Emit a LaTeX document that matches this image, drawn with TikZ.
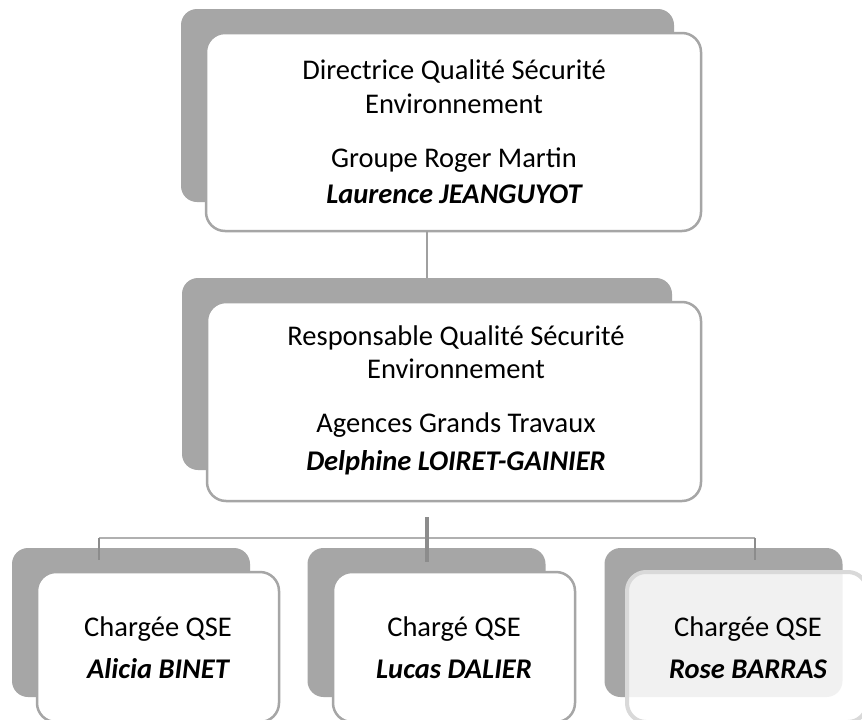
\documentclass[tikz,border=0pt]{standalone}
\usepackage{fontspec}
\setmainfont{Carlito}
\begin{document}
\begin{tikzpicture}[x=1pt,y=-1pt,
  backbox/.style={rectangle, rounded corners=16pt, fill=backgray, draw=none, inner sep=0pt, outer sep=0pt},
  frontbox/.style={rectangle, rounded corners=19pt, fill=white, draw=edgegray, line width=2.5pt, inner sep=0pt, outer sep=0pt},
  lastbox/.style={rectangle, rounded corners=19pt, fill=white, fill opacity=0.85, draw=lightedge, line width=4pt, inner sep=0pt, outer sep=0pt},
  txt/.style={anchor=base, inner sep=0pt, font=\fontsize{28.5}{34}\selectfont, text=black},
  nametxt/.style={txt, font=\fontsize{28.5}{34}\selectfont\bfseries\itshape},
  conn/.style={draw=conngray, line width=2.5pt},
  hline/.style={draw=hgray, line width=2pt},
  thick conn/.style={draw=darkconn, line width=4pt},
  drop/.style={draw=darkconn, line width=2pt}
]
\definecolor{backgray}{HTML}{A6A6A6}
\definecolor{edgegray}{HTML}{A6A6A6}
\definecolor{lightedge}{HTML}{D9D9D9}
\definecolor{conngray}{HTML}{A0A0A0}
\definecolor{hgray}{HTML}{B0B0B0}
\definecolor{darkconn}{HTML}{8C8C8C}
\useasboundingbox[fill=white] (0,0) rectangle (862,720);

% back shapes
\node[backbox, minimum width=493pt, minimum height=193pt] (b1) at (427.5,105.5) {};
\node[backbox, minimum width=490pt, minimum height=192pt] (b2) at (427,374) {};
\node[backbox, minimum width=238pt, minimum height=149pt] (b3) at (131,622.5) {};
\node[backbox, minimum width=238pt, minimum height=149pt] (b4) at (426.5,622.5) {};
\node[backbox, minimum width=238pt, minimum height=149pt] (b5) at (723.5,622.5) {};

% upper front boxes
\node[frontbox, minimum width=495pt, minimum height=198pt] (f1) at (453.5,132) {};
\node[frontbox, minimum width=494pt, minimum height=199pt] (f2) at (454,401.5) {};

% connectors
\coordinate (c1top) at (427,231);
\draw[conn] (c1top) -- (b2.north);
\coordinate (hubtop) at (427,517);
\coordinate (hubbot) at (427,562);
\coordinate (hl) at (99,538);
\coordinate (hr) at (755,538);
\coordinate (dl) at (99,560);
\coordinate (dr) at (755,560);
\draw[hline] (hl) -- (hr);
\draw[drop] (hl) -- (dl);
\draw[drop] (hr) -- (dr);
\draw[thick conn] (hubtop) -- (hubbot);

% lower front boxes
\node[frontbox, minimum width=242pt, minimum height=150pt] (f3) at (158,647) {};
\node[frontbox, minimum width=242pt, minimum height=150pt] (f4) at (454,647) {};
\node[lastbox, minimum width=240pt, minimum height=150pt] (f5) at (747,647) {};

% texts, top box
\node[txt] (t1a) at (454,79) {Directrice Qualité Sécurité};
\node[txt] (t1b) at (454,113) {Environnement};
\node[txt] (t1c) at (454,167) {Groupe Roger Martin};
\node[nametxt] (t1d) at (454,203) {Laurence JEANGUYOT};

% texts, second box
\node[txt] (t2a) at (456,345) {Responsable Qualité Sécurité};
\node[txt] (t2b) at (456,378) {Environnement};
\node[txt] (t2c) at (456,432) {Agences Grands Travaux};
\node[nametxt] (t2d) at (456,470) {Delphine LOIRET-GAINIER};

% texts, bottom boxes
\node[txt] (t3a) at (158,636) {Chargée QSE};
\node[nametxt] (t3b) at (158,678) {Alicia BINET};
\node[txt] (t4a) at (454,636) {Chargé QSE};
\node[nametxt] (t4b) at (454,678) {Lucas DALIER};
\node[txt] (t5a) at (748,636) {Chargée QSE};
\node[nametxt] (t5b) at (748,678) {Rose BARRAS};
\end{tikzpicture}
\end{document}
